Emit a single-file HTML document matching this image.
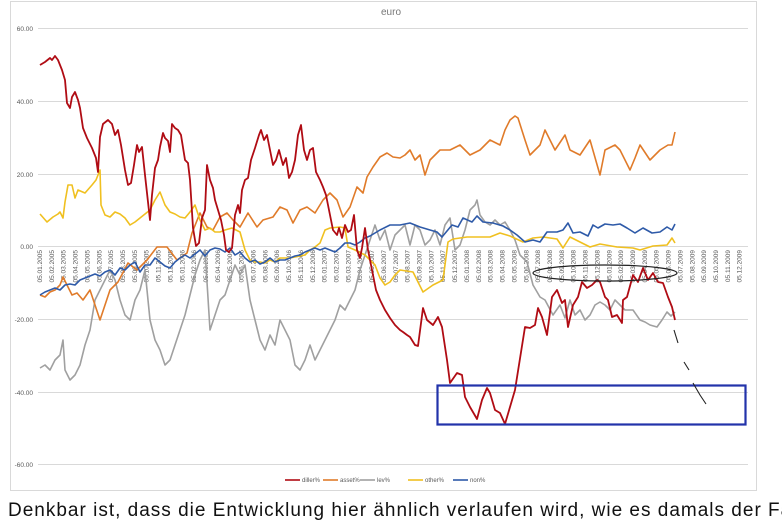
<!DOCTYPE html>
<html><head><meta charset="utf-8"><style>
html,body{margin:0;padding:0;background:#fff;width:782px;height:506px;overflow:hidden;font-family:"Liberation Sans",sans-serif}
.bt{position:absolute;left:8px;top:500px;font-size:19px;color:#111;white-space:nowrap;letter-spacing:1px}
</style></head><body>
<svg width="782" height="506" style="position:absolute;left:0;top:0" font-family="Liberation Sans, sans-serif">
<rect x="10.5" y="1.5" width="746" height="489" fill="#fff" stroke="#d9d9d9"/>
<text x="391" y="15" font-size="10" fill="#777" text-anchor="middle">euro</text>
<g stroke="#d9d9d9" stroke-width="1">
<line x1="38" y1="28.5" x2="748" y2="28.5"/><line x1="38" y1="101.5" x2="748" y2="101.5"/>
<line x1="38" y1="174.5" x2="748" y2="174.5"/><line x1="38" y1="246.5" x2="748" y2="246.5"/>
<line x1="38" y1="319.5" x2="748" y2="319.5"/><line x1="38" y1="392.5" x2="748" y2="392.5"/>
<line x1="38" y1="464.5" x2="748" y2="464.5"/>
</g>
<g font-size="6.5" fill="#595959" text-anchor="end">
<text x="33" y="31">60.00</text><text x="33" y="104">40.00</text><text x="33" y="177">20.00</text>
<text x="33" y="249">0.00</text><text x="33" y="322">-20.00</text><text x="33" y="395">-40.00</text><text x="33" y="467">-60.00</text>
</g>
<g id="xl" font-size="6.5" fill="#595959" text-anchor="end"></g>
<g fill="none" stroke-width="1.6" stroke-linejoin="round">
<polyline stroke="#a0a0a0" points="40,368 45,365 50,370 55,360 60,355 63,340 65,370 70,380 75,375 80,365 85,345 90,330 95,300 100,290 105,280 110,270 115,280 120,300 125,315 130,320 135,300 140,290 145,270 150,320 155,340 160,350 165,365 170,360 175,345 180,330 185,315 190,295 195,275 200,260 205,250 210,330 215,315 220,300 225,295 230,280 235,265 240,275 245,265 250,300 255,320 260,340 265,350 270,335 275,345 280,320 285,330 290,340 295,365 300,370 305,360 310,345 315,360 320,350 325,340 330,330 335,320 340,305 345,310 350,300 355,290 360,270 365,255 370,240 375,225 380,240 385,230 390,250 395,235 400,230 405,225 410,245 415,225 420,230 425,245 430,240 435,230 440,245 445,225 450,218 455,250 460,245 465,230 470,210 475,205 477,200 480,215 485,222 490,225 495,220 500,225 505,222 510,230 515,240 520,255 527,262 533,285 540,297 545,300 553,315 560,305 565,318 570,300 575,315 580,310 585,320 590,315 595,305 600,302 605,305 610,310 615,300 620,305 625,310 633,310 640,320 645,322 650,325 657,327 662,320 667,312 671,316 675,312"/>
<polyline stroke="#e07b2a" points="40,295 45,297 50,292 55,290 60,285 63,277 67,285 72,295 77,293 83,300 90,290 95,305 100,320 105,305 110,290 118,282 128,263 137,270 147,260 157,247 167,247 177,260 187,253 192,233 200,213 207,227 213,230 220,217 227,213 233,220 240,227 248,213 257,227 263,220 273,217 280,207 287,210 293,223 300,210 307,207 315,213 323,200 330,193 337,200 343,217 350,207 357,187 363,193 367,177 373,167 380,157 387,153 393,157 400,158 405,155 410,150 415,160 420,155 425,175 430,160 440,150 450,150 460,145 470,155 480,150 490,140 500,145 505,130 510,120 515,116 518,118 525,140 530,155 540,145 545,130 555,150 565,135 570,150 580,155 590,140 600,175 605,150 615,145 620,150 630,170 635,158 640,145 650,160 660,150 668,145 672,145 675,132"/>
<polyline stroke="#f0c020" points="40,214 47,222 53,217 58,214 60,212 63,218 65,202 68,185 72,185 75,198 78,190 85,193 92,185 96,180 100,170 101,205 105,215 110,217 115,212 120,214 125,218 130,225 135,222 140,218 150,210 155,200 160,192 165,205 170,212 175,214 180,217 185,218 190,212 195,205 200,220 205,230 210,228 215,232 220,232 225,230 232,228 240,232 245,250 250,260 255,262 260,262 265,263 270,260 275,262 280,258 290,258 300,256 305,255 310,250 315,247 320,243 325,230 330,228 340,227 345,228 348,247 355,250 365,255 375,265 380,278 385,285 390,282 395,275 400,270 413,272 423,292 433,285 443,280 448,242 453,239 467,237 490,237 500,233 510,236 523,242 533,238 543,237 557,239 563,248 570,237 580,242 590,247 600,244 617,247 633,248 640,250 653,246 667,245 672,238 675,243"/>
<polyline stroke="#2e5aa8" points="40,295 45,292 50,290 55,288 60,290 65,285 70,284 75,285 80,280 85,278 90,276 95,274 100,276 105,272 110,270 115,275 120,268 125,270 130,265 135,262 140,272 145,265 150,265 155,258 160,262 165,266 170,268 175,262 180,258 185,255 190,258 195,254 200,250 205,256 210,250 215,248 220,249 225,252 230,248 235,255 240,252 245,258 250,262 255,260 260,264 265,262 270,258 275,262 280,260 285,260 290,258 295,256 300,255 305,252 310,250 315,248 320,250 325,248 330,250 335,252 340,248 345,243 350,243 355,245 360,242 365,238 370,236 380,230 390,225 400,225 410,223 420,227 430,230 437,232 442,237 452,225 458,227 463,218 472,222 477,216 483,222 493,223 503,226 510,230 517,235 525,242 533,240 540,242 547,232 557,232 563,230 568,223 573,233 580,232 588,236 593,225 598,228 605,224 613,225 620,224 627,228 635,233 643,228 652,233 660,232 667,227 672,230 675,224"/>
<polyline stroke="#b00c14" stroke-width="1.8" points="40,65 45,62 50,58 52,60 55,56 58,60 62,70 65,80 67,103 70,108 72,97 75,92 78,100 80,108 83,128 87,138 92,148 96,158 98,172 100,137 103,124 108,120 112,124 115,135 118,130 121,145 125,170 128,185 131,183 134,165 137,145 139,152 142,147 145,175 150,220 152,195 155,168 158,160 160,147 163,133 165,138 168,141 170,152 172,124 175,128 178,130 181,135 185,160 188,163 190,180 193,228 196,246 199,243 202,218 205,210 207,165 210,180 213,188 215,200 218,210 221,220 224,235 226,250 229,252 232,248 235,215 238,205 240,213 242,190 245,180 248,178 251,160 255,148 259,135 261,130 264,140 267,135 270,150 273,165 276,160 279,150 283,165 286,158 289,178 292,172 295,160 298,135 301,125 304,150 307,160 310,150 313,148 316,172 320,180 323,187 326,195 329,210 333,230 337,235 339,228 342,238 345,225 348,232 351,230 354,215 357,250 360,258 362,248 365,228 368,250 372,270 376,290 380,300 385,310 390,318 395,325 400,330 403,332 407,335 410,337 415,345 418,346 423,308 427,320 433,325 438,317 442,327 447,360 450,383 457,373 462,375 465,397 470,407 477,419 482,400 487,388 490,393 495,410 500,413 505,424 510,407 515,390 525,327 530,328 535,325 538,308 542,317 547,335 552,297 557,290 562,303 565,300 568,327 573,305 578,297 582,282 587,288 592,285 597,280 600,282 605,297 608,300 612,317 617,315 622,323 623,300 627,297 633,275 638,282 643,268 648,280 653,273 658,282 663,283 668,297 672,307 675,320"/>
</g>
<ellipse cx="605" cy="273" rx="72" ry="8" fill="none" stroke="#222" stroke-width="1.2"/>
<rect x="437.5" y="385.5" width="308" height="39" fill="none" stroke="#2233aa" stroke-width="2.2"/>
<g stroke="#222" stroke-width="1.1" fill="none">
<line x1="674" y1="330" x2="678" y2="343"/><line x1="684" y1="362" x2="689" y2="370"/><polyline points="693,383 700,395 706,404"/>
</g>
<g font-size="6" fill="#595959">
<line x1="285" y1="480" x2="300" y2="480" stroke="#b00c14" stroke-width="1.6"/><text x="302" y="482">diller%</text>
<line x1="323" y1="480" x2="338" y2="480" stroke="#e07b2a" stroke-width="1.6"/><text x="340" y="482">asset%</text>
<line x1="360" y1="480" x2="375" y2="480" stroke="#a0a0a0" stroke-width="1.6"/><text x="377" y="482">lev%</text>
<line x1="408" y1="480" x2="423" y2="480" stroke="#f0c020" stroke-width="1.6"/><text x="425" y="482">other%</text>
<line x1="453" y1="480" x2="468" y2="480" stroke="#2e5aa8" stroke-width="1.6"/><text x="470" y="482">non%</text>
</g>
</svg>
<div class="bt">Denkbar ist, dass die Entwicklung hier ähnlich verlaufen wird, wie es damals der Fall</div>
<script>
var g=document.getElementById('xl'),s='';
for(var i=0;i<60;i++){var y=2005+Math.floor(i/12),m=(i%12)+1;var x=40+i*11.86+2;
s+='<text transform="translate('+x.toFixed(1)+',250) rotate(-90)">05.'+(m<10?'0':'')+m+'.'+y+'</text>';}
g.innerHTML=s;
</script>
</body></html>
